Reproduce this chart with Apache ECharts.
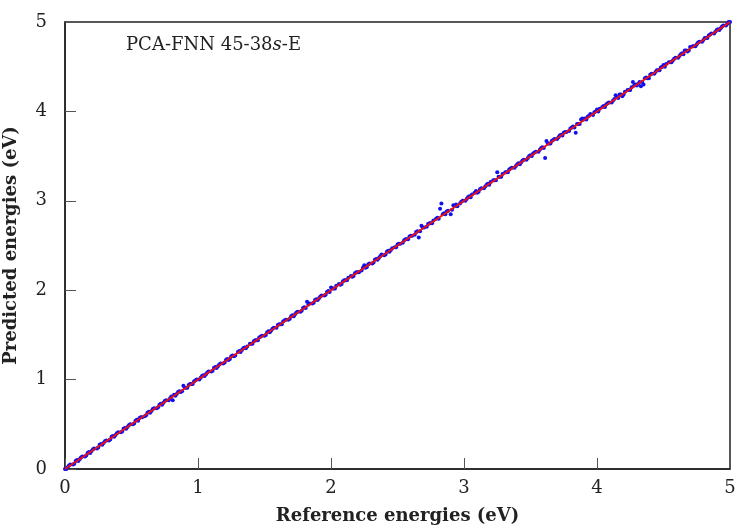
<!DOCTYPE html>
<html><head><meta charset="utf-8">
<script src="https://cdn.jsdelivr.net/npm/echarts@6/dist/echarts.min.js"></script>
<style>html,body{margin:0;padding:0;background:#fff}#c{width:735px;height:527px}</style>
</head><body><div id="c"></div>
<script>
const refEnergies = [
0.00,0.02,0.04,0.07,0.09,0.11,0.13,0.16,0.18,0.20,0.22,0.25,0.27,0.29,0.31,0.34,0.36,0.38,0.40,0.43,0.45,0.47,0.49,
0.52,0.54,0.56,0.58,0.61,0.63,0.65,0.67,0.70,0.72,0.74,0.76,0.79,0.81,0.82,0.84,0.86,0.88,0.89,0.91,0.93,0.95,0.97,0.99,
1.02,1.04,1.06,1.08,1.11,1.13,1.15,1.17,1.20,1.22,1.24,1.26,1.28,1.31,1.33,1.35,1.37,1.40,1.42,1.44,1.46,1.48,
1.51,1.53,1.55,1.57,1.60,1.62,1.64,1.66,1.69,1.71,1.73,1.75,1.78,1.80,1.82,1.84,1.87,1.89,1.91,1.93,1.96,1.98,
2.00,2.02,2.04,2.07,2.09,2.11,2.13,2.16,2.18,2.20,2.23,2.25,2.27,2.29,2.32,2.34,2.36,2.38,2.41,2.43,2.45,2.48,
2.50,2.52,2.55,2.57,2.59,2.61,2.64,2.66,2.68,2.70,2.73,2.75,2.77,2.80,2.82,2.83,2.85,2.87,2.90,2.92,2.94,2.97,2.99,
3.02,3.04,3.06,3.09,3.11,3.13,3.16,3.18,3.20,3.23,3.25,3.27,3.29,3.32,3.34,3.36,3.39,3.41,3.43,3.45,3.48,3.50,
3.52,3.54,3.57,3.59,3.61,3.62,3.64,3.66,3.68,3.71,3.73,3.75,3.77,3.80,3.82,3.84,3.86,3.88,3.89,3.91,3.93,3.95,3.98,
4.00,4.02,4.05,4.07,4.09,4.12,4.14,4.15,4.17,4.19,4.21,4.24,4.26,4.27,4.29,4.31,4.33,4.35,4.37,4.39,4.41,4.44,4.46,4.48,
4.50,4.52,4.55,4.57,4.59,4.62,4.64,4.66,4.68,4.70,4.73,4.75,4.77,4.80,4.82,4.84,4.86,4.89,4.91,4.93,4.95,4.98,5.00,
0.01,0.03,0.06,0.08,0.10,0.12,0.15,0.17,0.19,0.21,0.24,0.26,0.28,0.30,0.33,0.35,0.37,0.39,0.42,0.44,0.46,0.48,0.51,0.53,0.55,
0.57,0.60,0.62,0.64,0.66,0.69,0.71,0.73,0.75,0.78,0.80,0.83,0.85,0.87,0.90,0.92,0.94,0.96,0.98,1.01,1.03,1.05,1.07,1.10,1.12,
1.14,1.16,1.19,1.21,1.23,1.25,1.27,1.30,1.32,1.34,1.36,1.39,1.41,1.43,1.45,1.47,1.50,1.52,1.54,1.56,1.59,1.61,1.63,1.65,1.68,
1.70,1.72,1.74,1.77,1.79,1.81,1.83,1.86,1.88,1.90,1.92,1.95,1.97,1.99,2.01,2.03,2.06,2.08,2.10,2.12,2.15,2.17,2.19,2.21,2.24,
2.26,2.28,2.31,2.33,2.35,2.37,2.40,2.42,2.44,2.46,2.49,
2.51,2.54,2.56,2.58,2.60,2.63,2.65,2.67,2.69,2.72,2.74,2.76,2.79,2.81,2.84,2.86,2.88,2.91,2.93,2.95,2.98,3.01,3.03,3.05,3.08,
3.10,3.12,3.15,3.17,3.19,3.22,3.24,3.26,3.28,3.31,3.33,3.35,3.38,3.40,3.42,3.44,3.47,3.49,3.51,3.53,3.56,3.58,3.60,3.63,3.65,
3.67,3.70,3.72,3.74,3.76,3.79,3.81,3.83,3.85,3.87,3.90,3.92,3.94,3.97,3.99,4.01,4.04,4.06,4.08,4.11,4.13,4.16,4.18,4.20,4.23,
4.25,4.28,4.30,4.32,4.34,4.36,4.38,4.40,4.43,4.45,4.47,4.49,4.51,4.54,4.56,4.58,4.61,4.63,4.65,4.67,4.69,4.72,4.74,4.76,4.79,
4.81,4.83,4.85,4.88,4.90,4.92,4.94,4.97,4.99
];
const predEnergies = [
0.00,0.02,0.05,0.06,0.10,0.11,0.14,0.15,0.19,0.20,0.23,0.24,0.28,0.29,0.32,0.33,0.37,0.38,0.41,0.42,0.46,0.47,0.50,
0.51,0.55,0.57,0.58,0.60,0.64,0.65,0.68,0.69,0.73,0.74,0.77,0.79,0.77,0.83,0.84,0.87,0.87,0.93,0.91,0.94,0.95,0.98,1.00,
1.02,1.05,1.06,1.09,1.10,1.14,1.15,1.18,1.19,1.23,1.23,1.27,1.27,1.32,1.33,1.36,1.37,1.40,1.43,1.44,1.47,1.49,
1.50,1.54,1.55,1.58,1.61,1.62,1.65,1.67,1.68,1.72,1.73,1.76,1.77,1.81,1.87,1.85,1.86,1.90,1.91,1.94,1.95,1.99,
2.03,2.02,2.05,2.06,2.10,2.11,2.14,2.15,2.19,2.20,2.22,2.28,2.26,2.30,2.31,2.35,2.36,2.40,2.40,2.44,2.45,2.48,
2.51,2.52,2.56,2.57,2.60,2.61,2.65,2.59,2.72,2.70,2.74,2.75,2.78,2.81,2.91,2.97,2.86,2.88,2.85,2.95,2.96,2.97,3.00,
3.02,3.05,3.07,3.11,3.10,3.14,3.16,3.19,3.21,3.23,3.32,3.27,3.30,3.32,3.35,3.37,3.39,3.42,3.43,3.46,3.48,3.51,
3.53,3.55,3.57,3.60,3.48,3.67,3.64,3.67,3.69,3.71,3.74,3.76,3.77,3.81,3.83,3.76,3.86,3.91,3.92,3.92,3.94,3.97,3.99,
4.02,4.03,4.06,4.08,4.10,4.12,4.18,4.16,4.19,4.17,4.22,4.24,4.27,4.33,4.30,4.31,4.28,4.30,4.38,4.37,4.42,4.44,4.46,4.49,
4.52,4.53,4.55,4.57,4.60,4.62,4.65,4.68,4.67,4.72,4.73,4.75,4.78,4.80,4.82,4.85,4.87,4.89,4.92,4.93,4.96,4.98,5.00,
0.00,0.04,0.05,0.09,0.09,0.13,0.14,0.18,0.18,0.22,0.23,0.27,0.27,0.31,0.32,0.36,0.36,0.40,0.41,0.45,0.45,0.49,0.50,0.54,0.54,
0.58,0.59,0.63,0.63,0.67,0.68,0.72,0.72,0.76,0.77,0.81,0.82,0.86,0.86,0.91,0.91,0.95,0.95,0.99,1.00,1.04,1.04,1.08,1.09,1.13,
1.13,1.17,1.18,1.22,1.22,1.26,1.26,1.31,1.31,1.35,1.35,1.40,1.40,1.44,1.44,1.48,1.49,1.53,1.53,1.57,1.58,1.62,1.62,1.66,1.67,
1.71,1.71,1.75,1.76,1.80,1.80,1.84,1.85,1.89,1.89,1.93,1.94,1.98,1.98,2.02,2.02,2.07,2.07,2.11,2.11,2.16,2.16,2.20,2.20,2.25,
2.25,2.29,2.30,2.34,2.34,2.38,2.39,2.43,2.43,2.47,2.48,
2.52,2.53,2.57,2.57,2.61,2.62,2.66,2.66,2.70,2.71,2.75,2.75,2.80,2.80,2.85,2.85,2.89,2.90,2.94,2.94,2.99,3.00,3.04,3.04,3.09,
3.09,3.13,3.14,3.18,3.18,3.23,3.23,3.27,3.27,3.32,3.32,3.36,3.37,3.41,3.41,3.45,3.46,3.50,3.50,3.54,3.55,3.59,3.59,3.64,3.64,
3.68,3.69,3.73,3.73,3.77,3.78,3.82,3.82,3.86,3.86,3.91,3.91,3.95,3.96,4.00,4.00,4.05,4.05,4.09,4.10,4.14,4.15,4.19,4.19,4.24,
4.24,4.29,4.29,4.33,4.33,4.37,4.37,4.41,4.42,4.46,4.46,4.50,4.50,4.55,4.55,4.59,4.60,4.64,4.64,4.68,4.68,4.73,4.73,4.77,4.78,
4.82,4.82,4.86,4.87,4.91,4.91,4.95,4.96,5.00
];
const idealX = [0, 5];
const idealY = [0, 5];
const xTicks = [0, 1, 2, 3, 4, 5];
const yTicks = [0, 1, 2, 3, 4, 5];

const points = refEnergies.map((v, i) => [v, predEnergies[i]]);
const ideal = idealX.map((v, i) => [v, idealY[i]]);
const font = '"DejaVu Serif", "Liberation Serif", serif';

const chart = echarts.init(document.getElementById('c'), null, {renderer: 'canvas'});
chart.setOption({
  animation: false,
  backgroundColor: '#fff',
  grid: {left: 65, right: 5, top: 22, bottom: 58, outerBoundsMode: 'none', containLabel: false,
         show: true, borderColor: '#222', borderWidth: 1.5, backgroundColor: 'transparent'},
  xAxis: {
    type: 'value', min: xTicks[0], max: xTicks[xTicks.length - 1], interval: 1,
    axisLine: {show: true, onZero: false, lineStyle: {color: '#222', width: 1.5}},
    axisTick: {show: true, inside: true, length: 11, lineStyle: {color: '#555', width: 1}},
    splitLine: {show: false},
    axisLabel: {color: '#222', fontFamily: font, fontSize: 18, margin: 10},
    name: 'Reference energies (eV)', nameLocation: 'middle', nameGap: 38,
    nameTextStyle: {color: '#222', fontFamily: font, fontSize: 18, fontWeight: 'bold'}
  },
  yAxis: {
    type: 'value', min: yTicks[0], max: yTicks[yTicks.length - 1], interval: 1,
    axisLine: {show: true, onZero: false, lineStyle: {color: '#222', width: 1.5}},
    axisTick: {show: true, inside: true, length: 11, lineStyle: {color: '#555', width: 1}},
    splitLine: {show: false},
    axisLabel: {color: '#222', fontFamily: font, fontSize: 18, margin: 18},
    name: 'Predicted energies (eV)', nameLocation: 'middle', nameGap: 45, nameRotate: 90,
    nameTextStyle: {color: '#222', fontFamily: font, fontSize: 18, fontWeight: 'bold'}
  },
  graphic: [{
    type: 'text', left: 126, top: 36,
    style: {
      text: '{n|PCA-FNN 45-38}{i|s}{n|-E}',
      rich: {
        n: {fontFamily: font, fontSize: 18, fill: '#222'},
        i: {fontFamily: font, fontSize: 18, fontStyle: 'italic', fill: '#222'}
      }
    }
  }],
  series: [
    {type: 'scatter', data: points, symbol: 'circle', symbolSize: 4, itemStyle: {color: '#1010ee', opacity: 1}, z: 2},
    {type: 'line', data: ideal, showSymbol: false, symbol: 'none', lineStyle: {color: '#ee1111', width: 2}, z: 3}
  ]
});
</script></body></html>
